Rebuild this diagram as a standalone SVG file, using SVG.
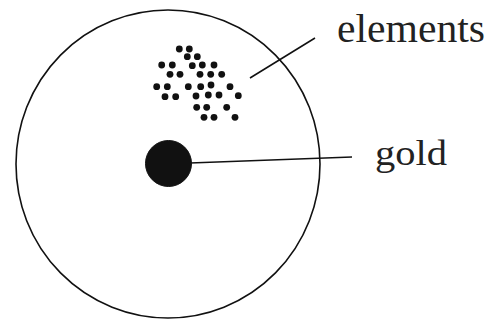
<svg xmlns="http://www.w3.org/2000/svg" width="491" height="320" viewBox="0 0 491 320">
<style>
.ln{fill:none;stroke:#111;stroke-width:1.6}
.dot{fill:#111}
.lbl{font-family:"Liberation Serif","Times New Roman",serif;fill:#222}
</style>
<rect width="491" height="320" fill="#fff"/>
<g id="outer"><ellipse class="ln" cx="168" cy="164" rx="152" ry="154"/></g>
<g id="gold"><ellipse class="dot" cx="168.5" cy="163.5" rx="23" ry="23" stroke="#111" stroke-width="1"/></g>
<g id="elements" class="dot">
<circle cx="179.3" cy="49" r="3.4"/><circle cx="189.3" cy="49" r="3.4"/>
<circle cx="187.3" cy="56.7" r="3.4"/><circle cx="197.3" cy="56.7" r="3.4"/>
<circle cx="161.7" cy="65" r="3.4"/><circle cx="172.3" cy="65" r="3.4"/><circle cx="192.3" cy="65.7" r="3.4"/><circle cx="202.3" cy="65" r="3.4"/><circle cx="214" cy="65" r="3.4"/>
<circle cx="170" cy="74.3" r="3.4"/><circle cx="180" cy="74.3" r="3.4"/><circle cx="200" cy="74.3" r="3.4"/><circle cx="210.7" cy="74.3" r="3.4"/><circle cx="221.7" cy="74.3" r="3.4"/>
<circle cx="156.7" cy="86.7" r="3.4"/><circle cx="167.3" cy="86.7" r="3.4"/><circle cx="188.3" cy="86.7" r="3.4"/><circle cx="200.7" cy="86.7" r="3.4"/><circle cx="211" cy="85" r="3.4"/><circle cx="230" cy="86.7" r="3.4"/>
<circle cx="165" cy="96.7" r="3.4"/><circle cx="175.7" cy="96.7" r="3.4"/><circle cx="196" cy="96" r="3.4"/><circle cx="208.3" cy="95" r="3.4"/><circle cx="219" cy="95" r="3.4"/><circle cx="238.3" cy="95.7" r="3.4"/>
<circle cx="196.7" cy="107.3" r="3.4"/><circle cx="206.7" cy="107.3" r="3.4"/><circle cx="226.7" cy="107.3" r="3.4"/>
<circle cx="204" cy="117.3" r="3.4"/><circle cx="214" cy="117.3" r="3.4"/><circle cx="235" cy="117.3" r="3.4"/>
</g>
<g id="connectors">
<line class="ln" x1="250" y1="78" x2="315" y2="38"/>
<line class="ln" x1="190" y1="163" x2="352" y2="157"/>
</g>
<g id="label-elements"><text class="lbl" x="337" y="42" font-size="41" textLength="148" lengthAdjust="spacingAndGlyphs">elements</text></g>
<g id="label-gold"><text class="lbl" x="375" y="164.5" font-size="36" textLength="72" lengthAdjust="spacingAndGlyphs">gold</text></g>
</svg>
